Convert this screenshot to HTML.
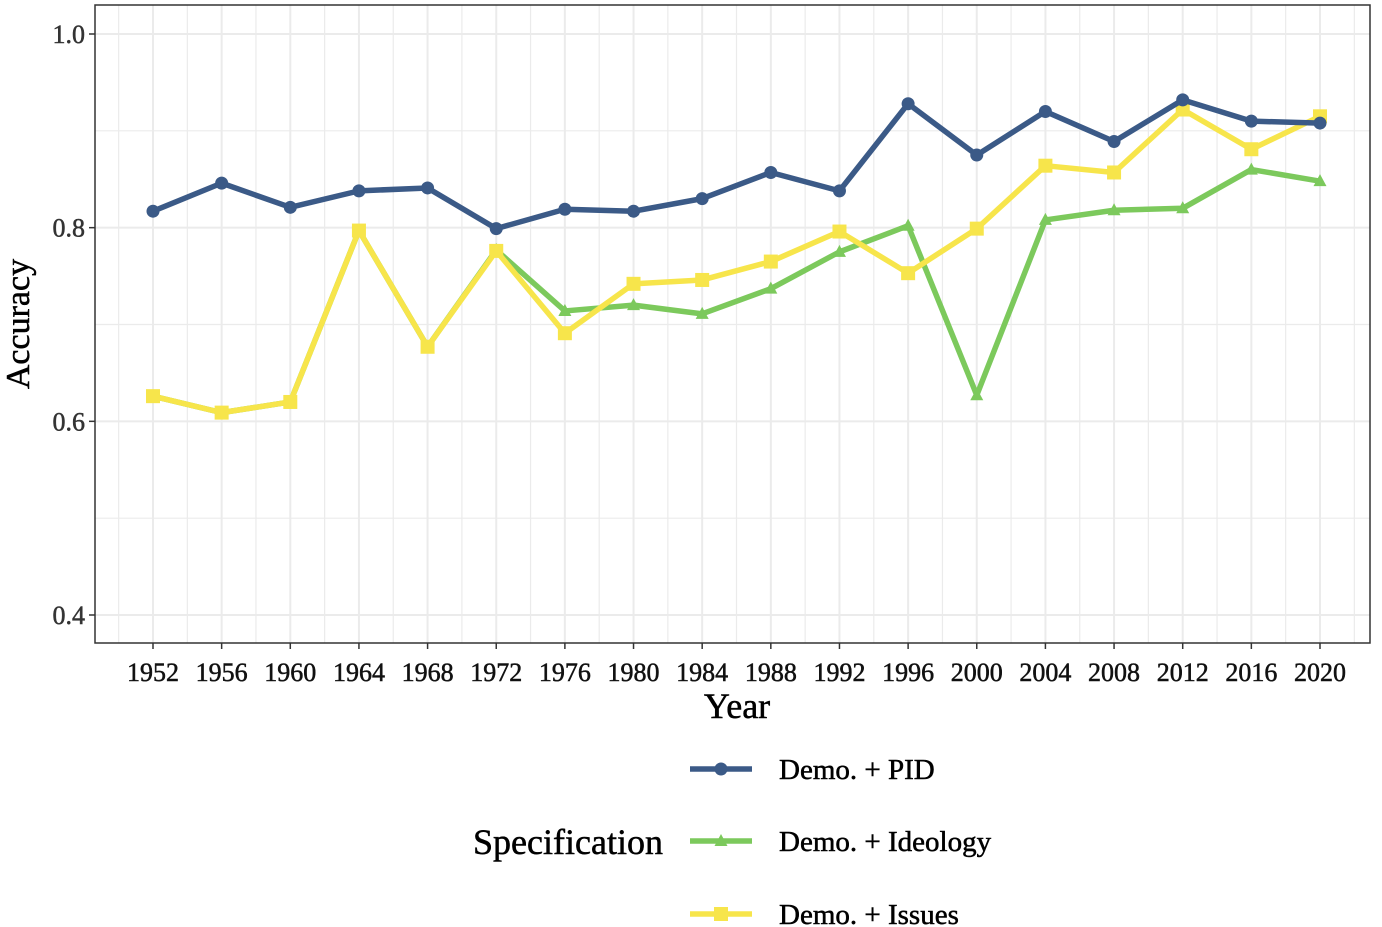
<!DOCTYPE html>
<html><head><meta charset="utf-8"><style>
body{margin:0;background:#fff;}
svg{display:block;font-family:"Liberation Serif",serif;}
svg text{stroke-width:0.5px;}
</style></head><body>
<svg id="chart" width="1382" height="927"></svg>
<script>
const years=[1952,1956,1960,1964,1968,1972,1976,1980,1984,1988,1992,1996,2000,2004,2008,2012,2016,2020];
const pidValues=[.817,.846,.821,.838,.841,.799,.819,.817,.830,.857,.838,.928,.875,.920,.889,.932,.910,.908];
const ideologyValues=[.626,.609,.620,.797,.677,.777,.714,.720,.711,.737,.775,.802,.627,.808,.818,.820,.860,.848];
const issuesValues=[.626,.609,.620,.797,.677,.776,.691,.742,.746,.765,.796,.753,.799,.864,.857,.922,.881,.915];
const yTicks=[0.4,0.6,0.8,1.0];
const yTickLabels=["0.4","0.6","0.8","1.0"];
const seriesNames=["Demo. + PID","Demo. + Ideology","Demo. + Issues"];

const NS="http://www.w3.org/2000/svg";
const svg=document.getElementById('chart');
const L=95,R=1370,T=5,B=643;
const x=yr=>153+(yr-1952)*(1320-153)/68;
const y=v=>34+(1-v)*(615-34)/0.6;
function el(tag,attrs,parent){const e=document.createElementNS(NS,tag);for(const k in attrs)e.setAttribute(k,attrs[k]);(parent||svg).appendChild(e);return e;}

const grid=el('g',{});


for(let yr=1950;yr<=2022;yr+=2){el('line',{x1:x(yr),x2:x(yr),y1:T,y2:B,stroke:'#ebebeb','stroke-width':yr%4==0?2:1.2},grid);}
for(let v=0.4;v<=1.001;v+=0.1){el('line',{x1:L,x2:R,y1:y(v),y2:y(v),stroke:'#ebebeb','stroke-width':Math.round(v*10)%2==0?2:1.2},grid);}
const frame=el('rect',{x:L,y:T,width:R-L,height:B-T,fill:'none',stroke:'#333','stroke-width':1.5});



yTicks.forEach((v,i)=>{
  el('line',{x1:L-6,x2:L,y1:y(v),y2:y(v),stroke:'#333','stroke-width':1.5});
  const t=el('text',{x:L-10,y:y(v)+9,'text-anchor':'end','font-size':26,fill:'#333',stroke:'#333'});
  t.textContent=yTickLabels[i];
  
  
});
years.forEach(yr=>{
  el('line',{x1:x(yr),x2:x(yr),y1:B,y2:B+6,stroke:'#333','stroke-width':1.5});
  const t=el('text',{x:x(yr),y:B+38,'text-anchor':'middle','font-size':26,fill:'#111',stroke:'#111'});
  t.textContent=yr;
  
  
});
const xt=el('text',{x:737,y:718,'text-anchor':'middle','font-size':36,fill:'#000',stroke:'#000'});
xt.textContent='Year';


const yt=el('text',{x:0,y:0,'text-anchor':'middle','font-size':34,fill:'#000',stroke:'#000',transform:'translate(29,324) rotate(-90)'});
yt.textContent='Accuracy';



function marker(type,cx,cy,color,g){
  if(type==='circle')el('circle',{cx,cy,r:6.5,fill:color},g);
  else if(type==='tri')el('polygon',{points:`${cx},${cy-7} ${cx-6.5},${cy+5} ${cx+6.5},${cy+5}`,fill:color},g);
  else el('rect',{x:cx-7,y:cy-7,width:14,height:14,fill:color},g);
}
function series(vals,color,type,name){
  const g=el('g',{});
  
  
  el('polyline',{points:vals.map((v,i)=>x(years[i])+','+y(v)).join(' '),fill:'none',stroke:color,'stroke-width':5.5,'stroke-linejoin':'round'},g);
  vals.forEach((v,i)=>marker(type,x(years[i]),y(v),color,g));
}
const colors=['#3b5a87','#7cc95c','#f7e54b'];
const types=['circle','tri','square'];
series(ideologyValues,colors[1],'tri','ideology-series');
series(issuesValues,colors[2],'square','issues-series');
series(pidValues,colors[0],'circle','pid-series');

const lt=el('text',{x:568,y:854,'text-anchor':'middle','font-size':36,fill:'#000',stroke:'#000'});
lt.textContent='Specification';


const ly=[769,841,914];
seriesNames.forEach((n,i)=>{
  const g=el('g',{});
  
  
  el('line',{x1:690,x2:752,y1:ly[i],y2:ly[i],stroke:colors[i],'stroke-width':5.5},g);
  marker(types[i],721,ly[i],colors[i],g);
  const t=el('text',{x:779,y:ly[i]+10,'font-size':29,fill:'#000',stroke:'#000'},g);
  t.textContent=n;
});
</script>
</body></html>
